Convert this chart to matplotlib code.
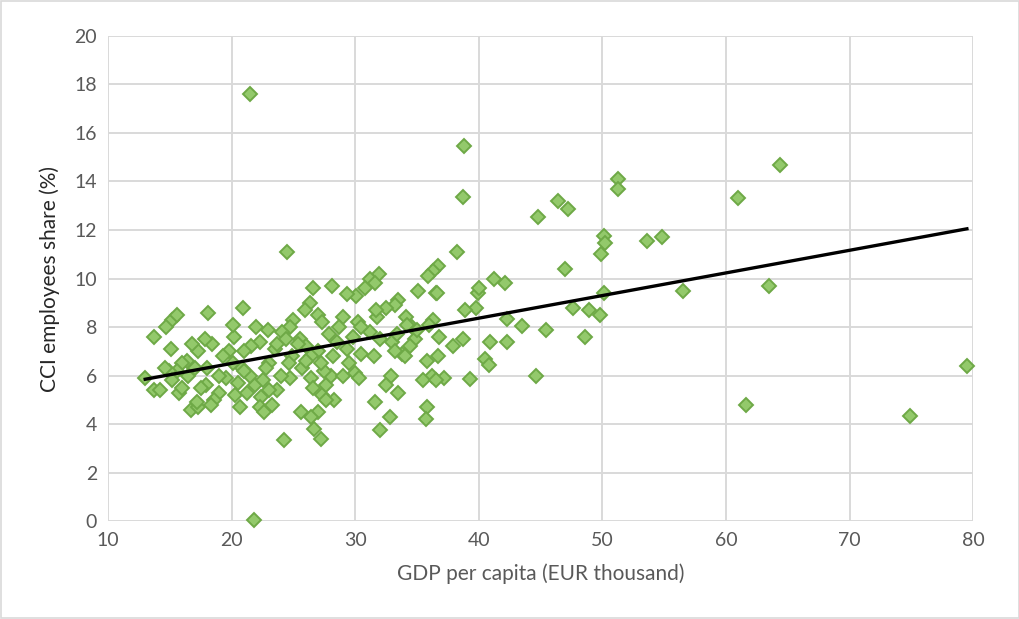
import numpy as np
import matplotlib
matplotlib.use("Agg")
import matplotlib.pyplot as plt
from matplotlib.patches import Rectangle

# GDP per capita (EUR thousand) and CCI employees share (%) by region
gdp = [
    21.5, 21.8, 24.5, 38.8, 38.7, 38.2, 44.8, 46.4, 47.2, 51.3, 51.3, 50.1,
    50.2, 49.9, 53.6, 54.8, 47.0, 50.1, 49.8, 48.6, 48.9, 47.6, 45.4, 44.6,
    43.5, 42.1, 41.2, 42.3, 42.3, 40.9, 40.5, 40.8, 39.3, 39.9, 40.0, 39.8,
    38.9, 38.7, 37.9, 56.5, 61.0, 64.4, 63.5, 61.6, 74.9, 79.5, 36.7, 36.3,
    35.9, 36.5, 35.1, 36.3, 36.0, 36.8, 36.7, 35.8, 36.2, 35.5, 37.2, 36.5,
    35.8, 35.7, 33.5, 33.2, 34.1, 32.5, 31.9, 31.2, 31.6, 30.8, 30.1, 29.3,
    28.1, 26.6, 26.3, 25.9, 27.0, 27.3, 29.0, 30.2, 31.8, 31.2, 33.0, 34.6,
    34.8, 33.8, 33.2, 32.0, 30.5, 29.5, 30.0, 30.3, 32.9, 32.5, 33.5, 31.5,
    31.6, 32.8, 32.0, 27.3, 27.0, 26.7, 27.2, 26.4, 25.6, 24.2, 27.6, 28.0,
    27.5, 26.4, 26.6, 25.7, 24.7, 24.9, 25.5, 26.0, 27.0, 27.9, 28.5, 29.3,
    28.7, 25.0, 24.7, 24.1, 23.5, 23.0, 22.9, 22.0, 22.3, 21.6, 21.0, 20.8,
    20.5, 20.3, 20.7, 21.2, 21.9, 22.4, 22.3, 22.6, 23.3, 23.7, 24.0, 22.8,
    21.5, 20.1, 19.8, 20.2, 20.1, 20.9, 19.3, 19.5, 19.0, 18.6, 18.3, 17.9,
    17.5, 18.0, 18.4, 17.8, 17.3, 18.1, 16.8, 16.4, 16.0, 15.6, 15.1, 14.9,
    14.6, 15.2, 15.6, 14.7, 13.7, 13.0, 13.7, 14.2, 15.2, 15.7, 16.0, 16.7,
    17.3, 17.2, 16.5, 17.0, 19.0, 21.0, 23.7, 24.4, 25.4, 26.4, 27.2, 28.2,
    29.8, 30.5, 31.7, 33.4, 34.2, 35.0, 34.4, 34.0, 29.0, 28.3, 26.0, 27.6,
    22.5, 23.0, 24.6, 36.6,
]
cci_share = [
    17.6, 0.05, 11.1, 15.45, 13.35, 11.1, 12.55, 13.2, 12.85, 14.1, 13.7, 11.75,
    11.45, 11.0, 11.55, 11.7, 10.4, 9.4, 8.5, 7.6, 8.7, 8.8, 7.9, 6.0,
    8.05, 9.8, 10.0, 8.35, 7.4, 7.4, 6.7, 6.45, 5.85, 9.4, 9.6, 8.8,
    8.7, 7.5, 7.2, 9.5, 13.3, 14.7, 9.7, 4.8, 4.35, 6.4, 10.5, 10.3,
    10.1, 9.4, 9.5, 8.3, 8.1, 7.6, 6.8, 6.6, 6.0, 5.8, 5.9, 5.8,
    4.7, 4.2, 9.1, 8.9, 8.4, 8.8, 10.2, 10.0, 9.8, 9.6, 9.3, 9.35,
    9.7, 9.6, 9.0, 8.7, 8.5, 8.2, 8.4, 8.2, 8.4, 7.8, 7.4, 8.0,
    7.5, 6.9, 7.0, 7.5, 6.9, 6.5, 6.1, 5.9, 6.0, 5.6, 5.3, 6.8,
    4.9, 4.3, 3.75, 5.2, 4.5, 3.8, 3.4, 4.3, 4.5, 3.35, 5.6, 6.0,
    6.2, 5.9, 5.5, 6.3, 5.9, 6.8, 7.5, 7.2, 7.0, 7.7, 7.4, 7.1,
    8.0, 8.3, 8.0, 7.8, 7.1, 6.5, 7.9, 8.0, 7.4, 7.2, 7.0, 6.3,
    5.7, 5.2, 4.7, 5.3, 5.6, 5.1, 4.7, 4.5, 4.8, 5.4, 6.0, 6.3,
    6.0, 6.5, 7.0, 7.6, 8.1, 8.8, 6.8, 5.9, 5.3, 5.0, 4.8, 5.6,
    5.5, 6.3, 7.3, 7.5, 7.0, 8.6, 7.3, 6.6, 6.5, 6.2, 7.1, 6.2,
    6.3, 8.3, 8.5, 8.0, 7.6, 5.9, 5.4, 5.4, 5.8, 5.3, 5.5, 4.6,
    4.7, 4.9, 6.0, 6.3, 6.0, 6.2, 7.3, 7.5, 7.3, 6.8, 6.5, 6.8,
    7.6, 8.0, 8.7, 7.7, 8.1, 7.9, 7.2, 6.8, 6.0, 5.0, 6.6, 5.0,
    5.8, 5.4, 6.5, 9.4,
]

# linear trend end points
trend_x = [13.0, 79.5]
trend_y = [5.85, 12.05]

x_ticks = [10, 20, 30, 40, 50, 60, 70, 80]
y_ticks = [0, 2, 4, 6, 8, 10, 12, 14, 16, 18, 20]

plt.rcParams['font.family'] = ['Lato', 'DejaVu Sans']

fig = plt.figure(figsize=(10.2, 6.19), dpi=100)
fig.patches.append(Rectangle((0.001, 0.001), 0.998, 0.998, transform=fig.transFigure,
                             fill=False, edgecolor='#d9d9d9', linewidth=1.2))
ax = fig.add_axes([0.106, 0.158, 0.848, 0.784])

ax.plot(gdp, cci_share, linestyle='none', marker='D', markersize=7.6,
        markerfacecolor='#93c96b', markeredgecolor='#6ea946', markeredgewidth=1.4,
        zorder=3, clip_on=False)
ax.plot(trend_x, trend_y, color='black', linewidth=2.4, zorder=4)

ax.set_xlim(10, 80)
ax.set_ylim(0, 20)
ax.set_xticks(x_ticks)
ax.set_yticks(y_ticks)
ax.grid(True, color='#d9d9d9', linewidth=1.4)
ax.set_axisbelow(True)
for s in ax.spines.values():
    s.set_visible(False)
ax.tick_params(length=0, labelsize=14, labelcolor='#595959', pad=8)

ax.set_xlabel('GDP per capita (EUR thousand)', fontsize=15, color='#595959', labelpad=10)
ax.set_ylabel('CCI employees share (%)', fontsize=15, color='#262626', labelpad=10)

fig.savefig('out.png', dpi=100)
